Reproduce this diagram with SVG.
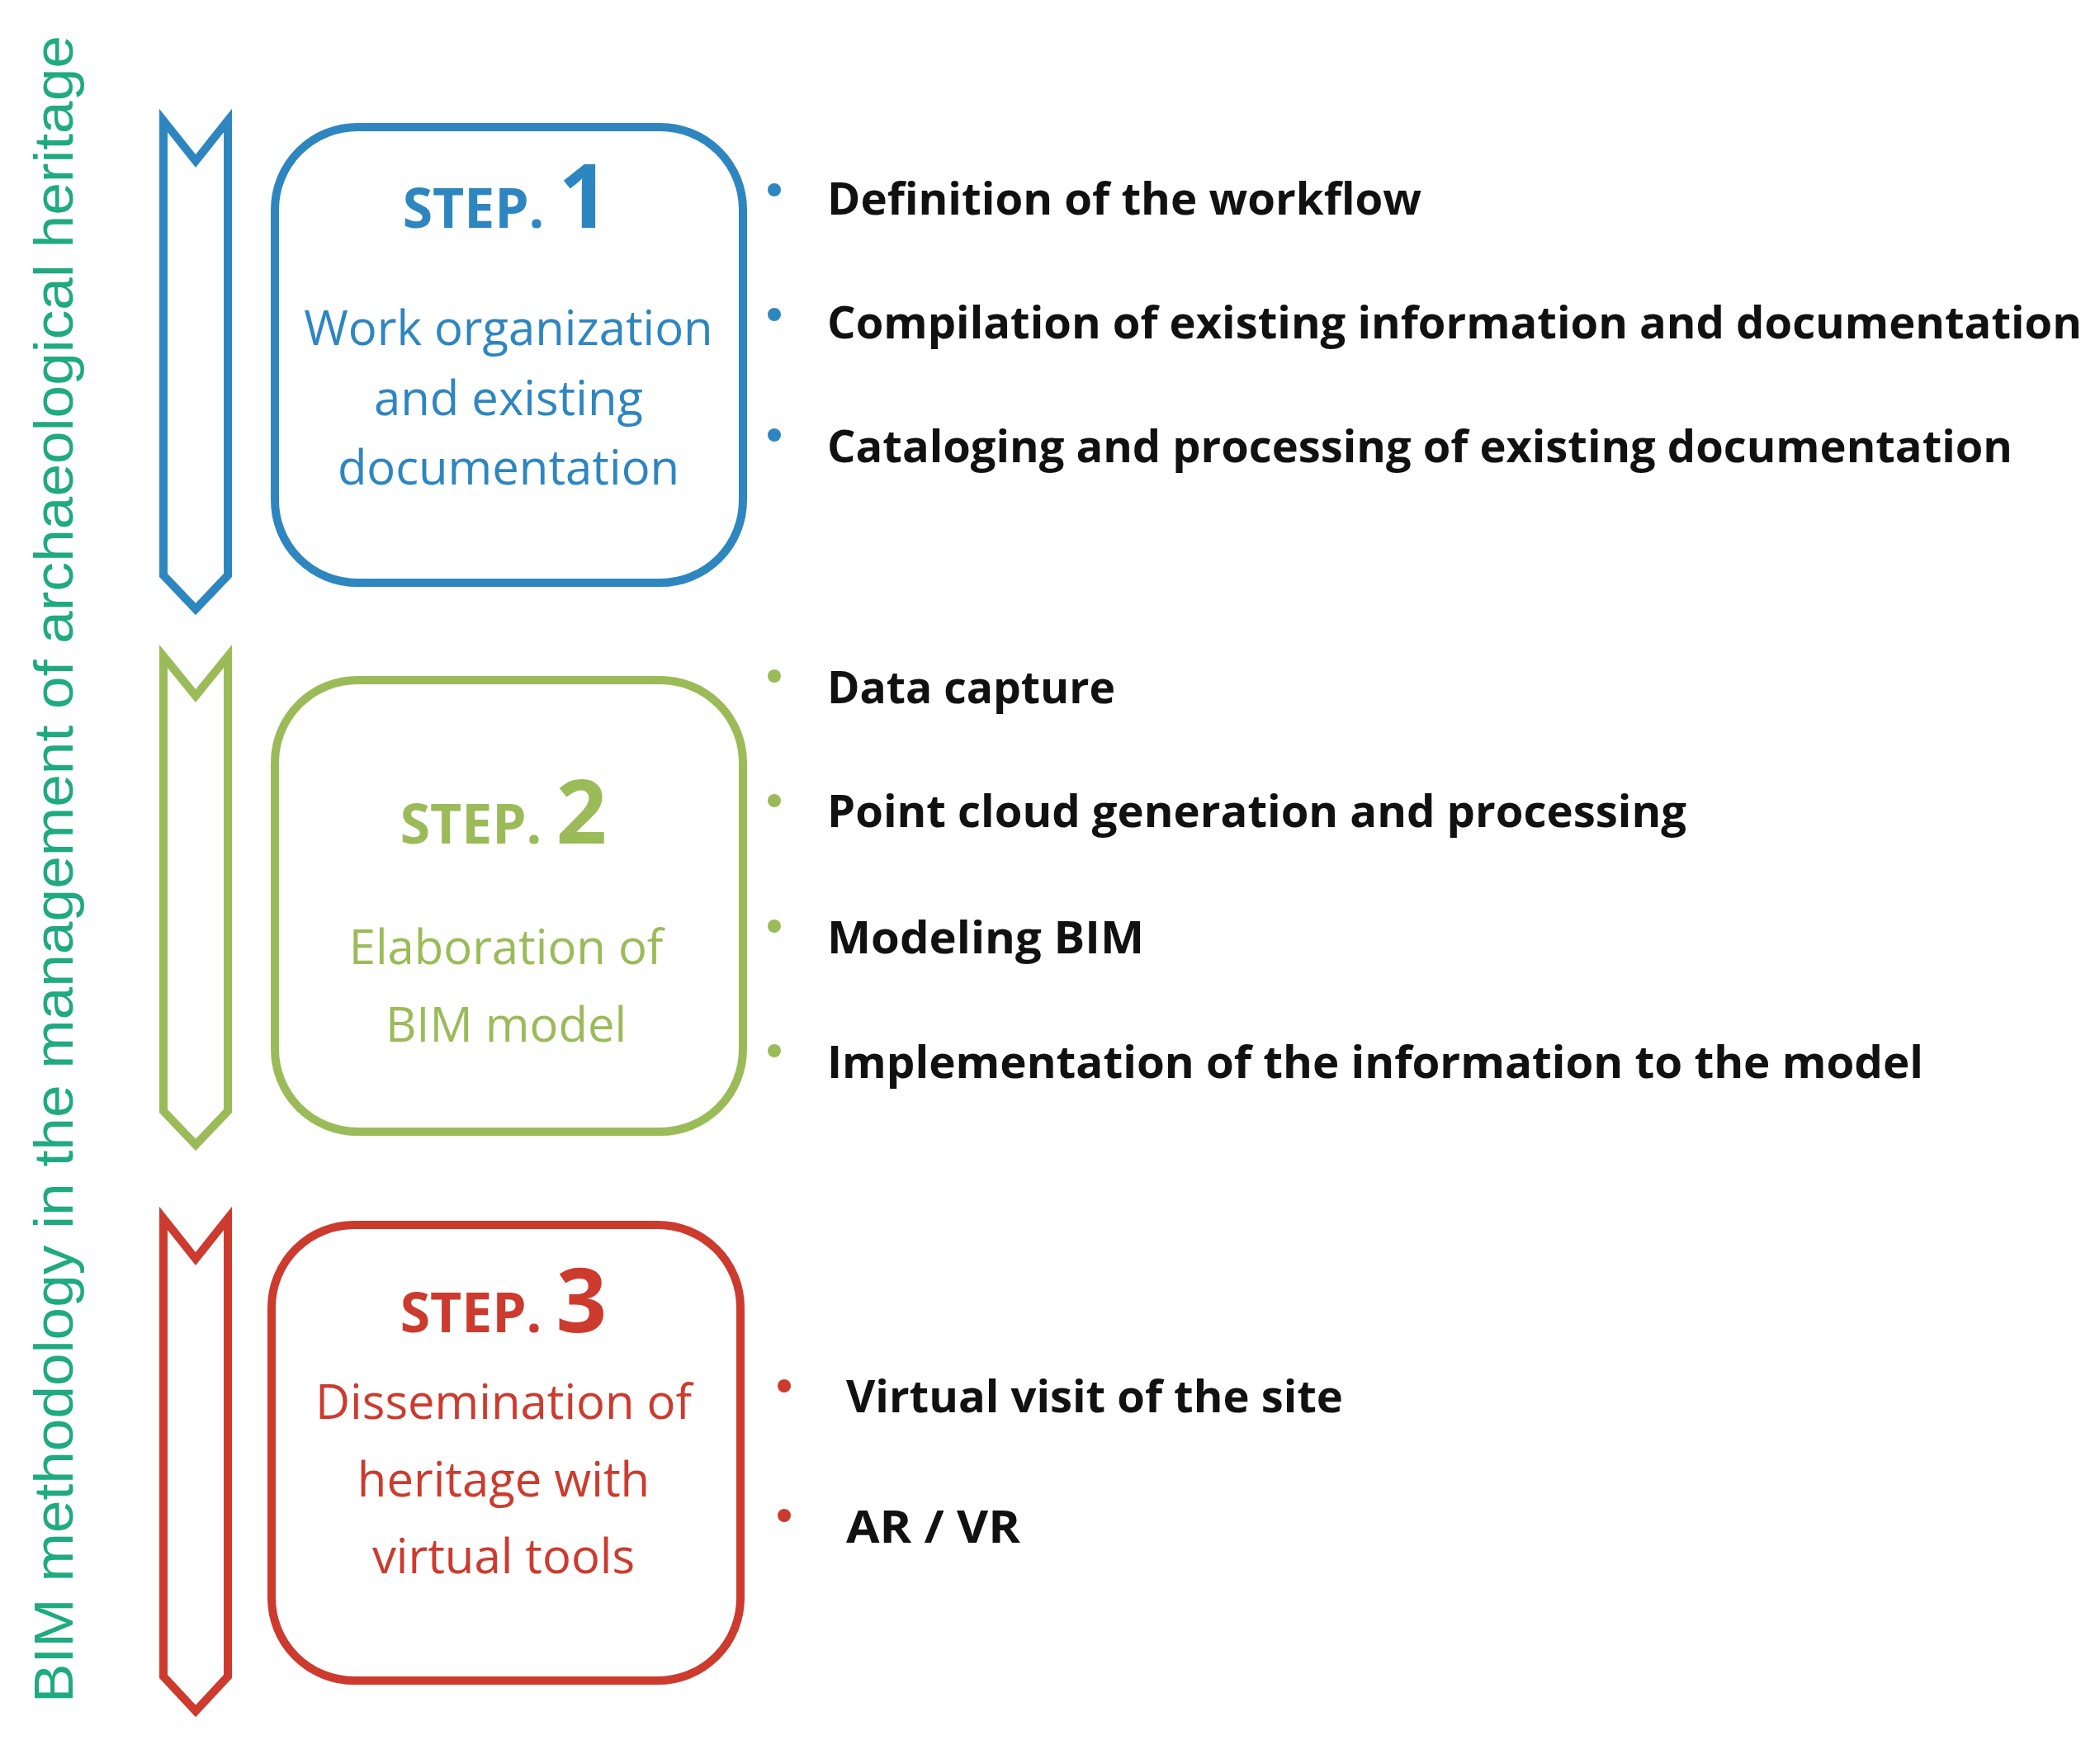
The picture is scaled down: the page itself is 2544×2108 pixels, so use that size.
<svg xmlns="http://www.w3.org/2000/svg" width="2544" height="2108" viewBox="0 0 2544 2108">
<style>
.b{fill:none;stroke-width:10;stroke-linejoin:miter}
.box{fill:none;stroke-width:10}
.st{font-family:"Open Sans","Noto Sans",sans-serif;font-weight:bold;text-anchor:middle}
.bd{font-family:"Open Sans","Noto Sans",sans-serif;font-size:58px;text-anchor:middle}
.it{font-family:"Open Sans","Noto Sans",sans-serif;font-weight:bold;font-size:54px;fill:#111}
.blue{stroke:#2e86c1}.green{stroke:#9bbb59}.red{stroke:#cc3b2e}
</style>
<rect width="2544" height="2108" fill="#fff"/>
<text x="0" y="0" transform="translate(88,2063) rotate(-90)" font-family="Liberation Sans,Arial,sans-serif" font-size="66" fill="#1faa80" textLength="2020" lengthAdjust="spacingAndGlyphs">BIM methodology in the management of archaeological heritage</text>
<g id="connectors">
<path class="b blue" d="M198,146 L237,195 L276,146 L276,697 L237,738 L198,697 Z"/>
<path class="b green" d="M198,795 L237,843 L276,795 L276,1346 L237,1387 L198,1346 Z"/>
<path class="b red" d="M198,1476 L237,1525 L276,1476 L276,2031 L237,2073 L198,2031 Z"/>
</g>
<g id="step1">
<rect class="box blue" x="333" y="154" width="567" height="552" rx="100"/>
<text class="st" x="613" y="276" fill="#2e86c1"><tspan font-size="66">STEP. </tspan><tspan font-size="108">1</tspan></text>
<text class="bd" x="616" y="418" fill="#2e86c1">Work organization</text>
<text class="bd" x="616" y="503" fill="#2e86c1">and existing</text>
<text class="bd" x="616" y="587" fill="#2e86c1">documentation</text>
</g>
<g id="step2">
<rect class="box green" x="333" y="824" width="567" height="547" rx="100"/>
<text class="st" x="610" y="1022" fill="#9bbb59"><tspan font-size="66">STEP. </tspan><tspan font-size="108">2</tspan></text>
<text class="bd" x="613" y="1168" fill="#9bbb59">Elaboration of</text>
<text class="bd" x="613" y="1262" fill="#9bbb59">BIM model</text>
</g>
<g id="step3">
<rect class="box red" x="329" y="1484" width="568" height="552" rx="100"/>
<text class="st" x="610" y="1614" fill="#cc3b2e"><tspan font-size="66">STEP. </tspan><tspan font-size="108">3</tspan></text>
<text class="bd" x="610" y="1719" fill="#cc3b2e">Dissemination of</text>
<text class="bd" x="610" y="1813" fill="#cc3b2e">heritage with</text>
<text class="bd" x="610" y="1906" fill="#cc3b2e">virtual tools</text>
</g>
<g id="items">
<g fill="#2e86c1"><circle cx="938" cy="230" r="8"/><circle cx="938" cy="381" r="8"/><circle cx="938" cy="527" r="8"/></g>
<g fill="#9bbb59"><circle cx="938" cy="819" r="8"/><circle cx="938" cy="970" r="8"/><circle cx="938" cy="1122" r="8"/><circle cx="938" cy="1273" r="8"/></g>
<g fill="#cc3b2e"><circle cx="950" cy="1679" r="8"/><circle cx="950" cy="1836" r="8"/></g>
<text class="it" x="1002" y="260" textLength="720" lengthAdjust="spacingAndGlyphs">Definition of the workflow</text>
<text class="it" x="1002" y="410" textLength="1520" lengthAdjust="spacingAndGlyphs">Compilation of existing information and documentation</text>
<text class="it" x="1002" y="560" textLength="1436" lengthAdjust="spacingAndGlyphs">Cataloging and processing of existing documentation</text>
<text class="it" x="1002" y="852" textLength="349" lengthAdjust="spacingAndGlyphs">Data capture</text>
<text class="it" x="1002" y="1002" textLength="1041" lengthAdjust="spacingAndGlyphs">Point cloud generation and processing</text>
<text class="it" x="1002" y="1155" textLength="384" lengthAdjust="spacingAndGlyphs">Modeling BIM</text>
<text class="it" x="1002" y="1306" textLength="1328" lengthAdjust="spacingAndGlyphs">Implementation of the information to the model</text>
<text class="it" x="1025" y="1711" textLength="602" lengthAdjust="spacingAndGlyphs">Virtual visit of the site</text>
<text class="it" x="1025" y="1869" textLength="211" lengthAdjust="spacingAndGlyphs">AR / VR</text>
</g>
</svg>
